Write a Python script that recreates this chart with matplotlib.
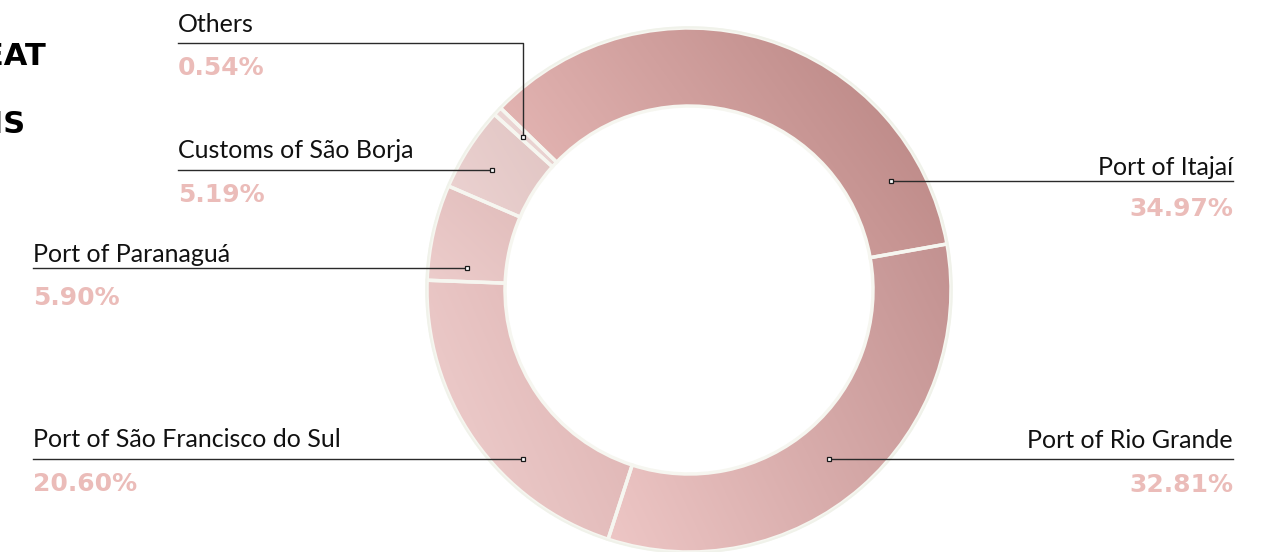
import numpy as np
import matplotlib
matplotlib.use("Agg")
import matplotlib.pyplot as plt
from matplotlib.colors import to_rgb

# data (clockwise from the top-left)
labels = ["Port of Itajaí", "Port of Rio Grande", "Port of São Francisco do Sul",
          "Port of Paranaguá", "Customs of São Borja", "Others"]
values = [34.97, 32.81, 20.60, 5.90, 5.19, 0.54]
pct_labels = ["34.97%", "32.81%", "20.60%", "5.90%", "5.19%", "0.54%"]

# gradient per slice: (left / bottom, right / top)
grad_colors = [("#edbfbd", "#b5817f"), ("#eec7c6", "#c29190"), ("#f0d1d0", "#d9abaa"),
               ("#edcdcc", "#d6aeac"), ("#efd6d5", "#d6b8b6"), ("#f2dfde", "#dcbebc")]

W, H = 1281, 552
def Y(py):
    return H - py

# label layout in pixels: (line start x, line y, marker x, marker y, text x, align, text baseline, pct baseline)
layout = [
    (1233, 181, 891, 181, 1233, "right", 175, 216),
    (1233, 459, 829, 459, 1233, "right", 448, 492),
    (33, 459, 523, 459, 33, "left", 447, 491),
    (33, 268, 467, 268, 33, "left", 262, 305),
    (178, 170, 492, 170, 178, "left", 158, 202),
    (178, 43, 523, 137, 178, "left", 32, 75),
]

fig = plt.figure(figsize=(W / 100, H / 100), dpi=100)
ax = fig.add_axes([0, 0, 1, 1])

cx, cy, R = 689, Y(290), 262
wedges, _ = ax.pie(values, center=(cx, cy), radius=R, startangle=136, counterclock=False,
                   wedgeprops=dict(width=78, facecolor="none", edgecolor="#f6f6f0", linewidth=2.5))
ax.set_xlim(0, W)
ax.set_ylim(0, H)
ax.set_aspect("auto")
ax.axis("off")

for w, (c0, c1) in zip(wedges, grad_colors):
    v = w.get_path().vertices
    x0, x1 = v[:, 0].min(), v[:, 0].max()
    y0, y1 = v[:, 1].min(), v[:, 1].max()
    gx, gy = np.meshgrid(np.linspace(0, 1, 150), np.linspace(0, 1, 150))
    t = 0.7 * gx + 0.3 * gy
    a, b = np.array(to_rgb(c0)), np.array(to_rgb(c1))
    img = a[None, None, :] * (1 - t[..., None]) + b[None, None, :] * t[..., None]
    im = ax.imshow(img, extent=(x0, x1, y0, y1), origin="lower", zorder=1,
                   interpolation="bilinear", aspect="auto")
    im.set_clip_path(w)
    w.set_zorder(2)

rim = plt.Circle((cx, cy), R + 0.8, fill=False, edgecolor="#f0f2ea", linewidth=1.3, zorder=2)
ax.add_patch(rim)

font = ["Lato", "DejaVu Sans"]
for (lx, ly, mx, my, tx, ha, tb, pb), lab, pct in zip(layout, labels, pct_labels):
    if my != ly:
        ax.plot([lx, mx, mx], [Y(ly), Y(ly), Y(my)], color="#2a2a2a", lw=1, zorder=3)
    else:
        ax.plot([lx, mx], [Y(ly), Y(my)], color="#2a2a2a", lw=1, zorder=3)
    ax.plot(mx, Y(my), marker="s", ms=3.5, mfc="white", mec="#1a1a1a", mew=0.9, zorder=4)
    ax.text(tx, Y(tb), lab, ha=ha, va="baseline", fontsize=18, color="#111111", family=font)
    ax.text(tx, Y(pb), pct, ha=ha, va="baseline", fontsize=18, color="#ebbcb9",
            family="DejaVu Sans", fontweight="bold")

# title fragments cut off at the left edge
ax.text(46, Y(65), "WHEAT", ha="right", va="baseline", fontsize=22, color="black",
        family="DejaVu Sans", fontweight="bold")
ax.text(25, Y(133), "DESTINATIONS", ha="right", va="baseline", fontsize=22, color="black",
        family="DejaVu Sans", fontweight="bold")

fig.savefig("out.png", dpi=100, facecolor="white")
